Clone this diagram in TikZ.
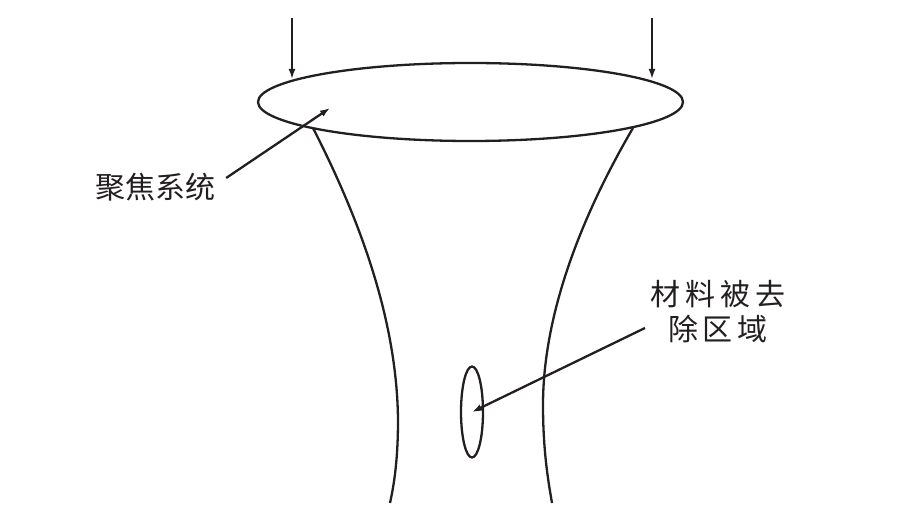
\documentclass[tikz,border=0pt]{standalone}
\usepackage{fontspec}
\newfontfamily\cjk{Noto Sans CJK SC}
\usetikzlibrary{arrows.meta, positioning, shapes.geometric}
\definecolor{lsInk}{HTML}{231F20}

\begin{document}
\begin{tikzpicture}[x=1pt, y=-1pt, line width=2.3pt, lsInk,
    every node/.style={font=\cjk\fontsize{30pt}{34pt}\selectfont, inner sep=0pt}]
        \useasboundingbox (0,0) rectangle (900,518);
        % focusing lens and the beam that leaves it
        \node[draw, ellipse, minimum width=425pt, minimum height=78pt] (lens) at (470.5,102) {};
        \draw (313,128) .. controls (360,220) and (397,320) .. (398,420)
              .. controls (398,460) and (394,485) .. (390,503);
        \draw (633,128) .. controls (585,210) and (543,310) .. (543,405)
              .. controls (543,450) and (548,480) .. (552,503);
        \node[draw, ellipse, minimum width=22pt, minimum height=91pt] (zone) at (472,412) {};
        % incoming light
        \coordinate (inL) at (292,18);
        \coordinate (inR) at (652,18);
        \coordinate (hitL) at (292,79);
        \coordinate (hitR) at (652,79);
        \draw[-{Latex[length=10pt, width=7pt]}] (inL) -- (hitL);
        \draw[-{Latex[length=10pt, width=7pt]}] (inR) -- (hitR);
        % labels
        \node[anchor=center] (lensLabel) at (155,187) {聚焦系统};
        \node[anchor=center] (zoneLabel1) at (718,294) {材\,料\,被\,去};
        \node[anchor=center, below=5pt of zoneLabel1] (zoneLabel2) {除\,区\,域};
        \coordinate (lensTip) at (330,108);
        \coordinate (zoneTail) at (645,328);
        \draw[-{Latex[length=10pt, width=7pt]}] (lensLabel.east) ++(10,-9) -- (lensTip);
        \draw[-{Latex[length=10pt, width=7pt]}] (zoneTail) -- (zone.center);
      \end{tikzpicture}
\end{document}
